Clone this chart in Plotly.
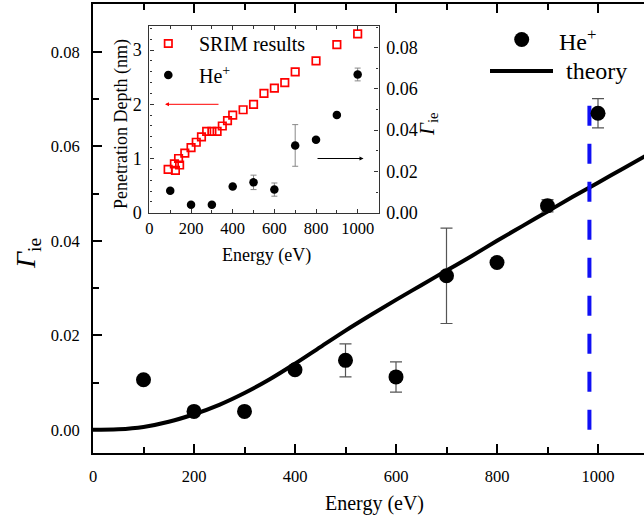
import plotly.graph_objects as go

# ---------------- data ----------------
he_energy = [100, 200, 300, 400, 500, 600, 700, 800, 900, 1000]
he_gamma = [0.0106, 0.0039, 0.0039, 0.0127, 0.0147, 0.0112, 0.0326, 0.0354, 0.0474, 0.0670]
he_err = [0, 0, 0, 0, 0.0035, 0.0032, 0.0101, 0, 0.0013, 0.0031]

theory_energy = [0, 50, 100, 150, 200, 250, 300, 350, 400, 450, 500, 550, 600, 650,
                 700, 750, 800, 850, 900, 950, 1000, 1050, 1100]
theory_gamma = [0.0000, 0.0001, 0.0006, 0.0017, 0.0033, 0.0053, 0.0078, 0.0107, 0.0140,
                0.0175, 0.0210, 0.0243, 0.0275, 0.0306, 0.0337, 0.0368, 0.0400, 0.0431,
                0.0462, 0.0493, 0.0523, 0.0553, 0.0583]

threshold_energy = [983, 983]
threshold_gamma = [0.0, 0.0698]

srim_energy = [90, 120, 125, 140, 145, 170, 200, 225, 250, 275, 300, 325, 350, 375, 400,
               450, 500, 550, 600, 650, 700, 800, 900, 1000]
srim_depth = [0.80, 0.90, 0.78, 1.00, 0.88, 1.10, 1.20, 1.30, 1.40, 1.50, 1.50, 1.50, 1.60,
              1.70, 1.80, 1.90, 2.00, 2.20, 2.30, 2.40, 2.60, 2.80, 3.10, 3.30]

main_xticks = [0, 200, 400, 600, 800, 1000]
main_yticks = [0.00, 0.02, 0.04, 0.06, 0.08]
inset_xticks = [0, 200, 400, 600, 800, 1000]
inset_depth_ticks = [0, 1, 2, 3]
inset_gamma_ticks = [0.00, 0.02, 0.04, 0.06, 0.08]

# ---------------- layout helpers ----------------
W, H = 644, 520
ML, MR, MT, MB = 93, 0, 4, 67
PW, PH = W - ML - MR, H - MT - MB


def PX(px):
    return (px - ML) / PW


def PY(py):
    return (H - MB - py) / PH


SERIF = "Liberation Serif, Times New Roman, serif"
AX = "#000"
INSET_AX = "#333"

fig = go.Figure()

# main plot traces
fig.add_trace(go.Scatter(x=theory_energy, y=theory_gamma, mode="lines",
                         line=dict(color="black", width=4, shape="spline", smoothing=1),
                         xaxis="x", yaxis="y", showlegend=False, hoverinfo="skip"))
fig.add_trace(go.Scatter(x=threshold_energy, y=threshold_gamma, mode="lines",
                         line=dict(color="#1010f5", width=4, dash="20px,18px"),
                         xaxis="x", yaxis="y", showlegend=False, hoverinfo="skip"))
fig.add_trace(go.Scatter(x=he_energy, y=he_gamma, mode="markers",
                         marker=dict(color="black", size=15),
                         error_y=dict(type="data", array=he_err, visible=True,
                                      color="#555", thickness=1.2, width=6),
                         xaxis="x", yaxis="y", showlegend=False))

# inset traces
fig.add_trace(go.Scatter(x=srim_energy, y=srim_depth, mode="markers",
                         marker=dict(symbol="square-open", color="red", size=7.5,
                                     line=dict(color="red", width=1.7)),
                         xaxis="x2", yaxis="y3", showlegend=False))
fig.add_trace(go.Scatter(x=he_energy, y=he_gamma, mode="markers",
                         marker=dict(color="black", size=8.5),
                         error_y=dict(type="data", array=he_err, visible=True,
                                      color="#888", thickness=1, width=3),
                         xaxis="x2", yaxis="y4", showlegend=False))

tickfont_main = dict(family=SERIF, size=16.5, color="black")
tickfont_inset = dict(family=SERIF, size=16.5, color="black")
tickfont_inset_y = dict(family=SERIF, size=18, color="black")

inset_x_dom = [PX(149.4), PX(378.5)]
inset_y_dom = [PY(212.7), PY(26)]

fig.update_layout(
    width=W, height=H,
    margin=dict(l=ML, r=MR, t=MT, b=MB, pad=0),
    paper_bgcolor="white", plot_bgcolor="white",
    showlegend=False,
    xaxis=dict(domain=[0, 1], range=[0, PW / 0.505], anchor="y",
               tickmode="array", tickvals=main_xticks, ticktext=[str(v) for v in main_xticks],
               ticks="inside", ticklen=9, tickwidth=1.5, tickcolor=AX,
               minor=dict(dtick=100, tick0=0, ticks="inside", ticklen=6, tickwidth=1.5, tickcolor=AX),
               showline=True, linewidth=2, linecolor=AX, mirror="ticks",
               showgrid=False, zeroline=False, tickfont=tickfont_main, ticklabelstandoff=7),
    yaxis=dict(domain=[0, 1], range=[-0.0049, 0.0901], anchor="x",
               tickmode="array", tickvals=main_yticks, ticktext=["%.2f" % v for v in main_yticks],
               ticks="inside", ticklen=9, tickwidth=1.5, tickcolor=AX,
               minor=dict(dtick=0.01, tick0=0, ticks="inside", ticklen=6, tickwidth=1.5, tickcolor=AX),
               showline=True, linewidth=2, linecolor=AX, mirror=False,
               showgrid=False, zeroline=False, tickfont=tickfont_main, ticklabelstandoff=8),
    yaxis2=dict(overlaying="y", side="right", anchor="x", range=[-0.0049, 0.0901],
                tickmode="array", tickvals=main_yticks, showticklabels=False,
                ticks="inside", ticklen=9, tickwidth=1.5, tickcolor=AX,
                minor=dict(dtick=0.01, tick0=0, ticks="inside", ticklen=6, tickwidth=1.5, tickcolor=AX),
                showline=False, showgrid=False, zeroline=False),
    xaxis2=dict(domain=inset_x_dom, range=[0, 1100], anchor="y3",
                tickmode="array", tickvals=inset_xticks, ticktext=[str(v) for v in inset_xticks],
                ticks="inside", ticklen=4, tickwidth=1, tickcolor=INSET_AX,
                minor=dict(dtick=100, tick0=0, ticks="inside", ticklen=3, tickwidth=1, tickcolor=INSET_AX),
                showline=True, linewidth=1.2, linecolor=INSET_AX, mirror="ticks",
                showgrid=False, zeroline=False, tickfont=tickfont_inset, ticklabelstandoff=0),
    yaxis3=dict(domain=inset_y_dom, range=[0, 3.445], anchor="x2",
                tickmode="array", tickvals=inset_depth_ticks, ticktext=[str(v) for v in inset_depth_ticks],
                ticks="inside", ticklen=4, tickwidth=1, tickcolor=INSET_AX,
                minor=dict(dtick=0.2, tick0=0, ticks="inside", ticklen=2.5, tickwidth=1, tickcolor=INSET_AX),
                showline=True, linewidth=1.2, linecolor=INSET_AX, mirror=False,
                showgrid=False, zeroline=False, tickfont=tickfont_inset_y, ticklabelstandoff=3),
    yaxis4=dict(overlaying="y3", side="right", anchor="x2", range=[0, 0.0905],
                tickmode="array", tickvals=inset_gamma_ticks, ticktext=["%.2f" % v for v in inset_gamma_ticks],
                ticks="inside", ticklen=4, tickwidth=1, tickcolor=INSET_AX,
                minor=dict(dtick=0.01, tick0=0, ticks="inside", ticklen=2.5, tickwidth=1, tickcolor=INSET_AX),
                showline=True, linewidth=1.2, linecolor=INSET_AX,
                showgrid=False, zeroline=False, tickfont=tickfont_inset_y, ticklabelstandoff=3),
)

annotations = [
    # axis titles
    dict(text="Energy (eV)", x=PX(374), y=PY(503), xref="paper", yref="paper",
         showarrow=False, font=dict(family=SERIF, size=20, color="black"),
         xanchor="center", yanchor="middle"),
    dict(text="<i>Γ</i><sub>ie</sub>", x=PX(27), y=PY(254), xref="paper", yref="paper",
         showarrow=False, textangle=-90, font=dict(family=SERIF, size=28, color="black"),
         xanchor="center", yanchor="middle"),
    dict(text="Energy (eV)", x=PX(266), y=PY(255), xref="paper", yref="paper",
         showarrow=False, font=dict(family=SERIF, size=18, color="black"),
         xanchor="center", yanchor="middle"),
    dict(text="Penetration Depth (nm)", x=PX(121), y=PY(124), xref="paper", yref="paper",
         showarrow=False, textangle=-90, font=dict(family=SERIF, size=18, color="black"),
         xanchor="center", yanchor="middle"),
    dict(text="<i>Γ</i><sub>ie</sub>", x=PX(428), y=PY(124), xref="paper", yref="paper",
         showarrow=False, textangle=-90, font=dict(family=SERIF, size=21, color="black"),
         xanchor="center", yanchor="middle"),
    # legends text
    dict(text="He<sup>+</sup>", x=PX(557), y=PY(40), xref="paper", yref="paper",
         showarrow=False, font=dict(family=SERIF, size=24, color="black"),
         xanchor="left", yanchor="middle"),
    dict(text="theory", x=PX(564), y=PY(71), xref="paper", yref="paper",
         showarrow=False, font=dict(family=SERIF, size=24, color="black"),
         xanchor="left", yanchor="middle"),
    dict(text="SRIM results", x=PX(197), y=PY(44), xref="paper", yref="paper",
         showarrow=False, font=dict(family=SERIF, size=20, color="black"),
         xanchor="left", yanchor="middle"),
    dict(text="He<sup>+</sup>", x=PX(197), y=PY(75), xref="paper", yref="paper",
         showarrow=False, font=dict(family=SERIF, size=20, color="black"),
         xanchor="left", yanchor="middle"),
    # arrows in inset
    dict(text="", x=75, y=2.0, ax=339, ay=2.0, xref="x2", yref="y3", axref="x2", ayref="y3",
         showarrow=True, arrowhead=2, arrowsize=0.8, arrowwidth=1, arrowcolor="red"),
    dict(text="", x=1028, y=1.0, ax=800, ay=1.0, xref="x2", yref="y3", axref="x2", ayref="y3",
         showarrow=True, arrowhead=2, arrowsize=0.8, arrowwidth=1, arrowcolor="black"),
]
fig.update_layout(annotations=annotations)

shapes = [
    # main legend glyphs
    dict(type="circle", xref="paper", yref="paper", xsizemode="pixel", ysizemode="pixel",
         xanchor=PX(521.7), yanchor=PY(39.5), x0=-7.5, x1=7.5, y0=-7.5, y1=7.5,
         fillcolor="black", line=dict(color="black", width=0)),
    dict(type="line", xref="paper", yref="paper", x0=PX(490), x1=PX(553), y0=PY(71), y1=PY(71),
         line=dict(color="black", width=4)),
    # inset legend glyphs
    dict(type="rect", xref="paper", yref="paper", xsizemode="pixel", ysizemode="pixel",
         xanchor=PX(168.3), yanchor=PY(43.5), x0=-3.7, x1=3.7, y0=-3.7, y1=3.7,
         fillcolor="rgba(0,0,0,0)", line=dict(color="red", width=1.7)),
    dict(type="circle", xref="paper", yref="paper", xsizemode="pixel", ysizemode="pixel",
         xanchor=PX(168.3), yanchor=PY(75), x0=-4.3, x1=4.3, y0=-4.3, y1=4.3,
         fillcolor="black", line=dict(color="black", width=0)),
]
fig.update_layout(shapes=shapes)

fig.write_html("out.html",
               config={"displayModeBar": False},
               post_script="document.body.style.margin='0';document.body.style.padding='0';"
                           "document.body.style.overflow='hidden';")
